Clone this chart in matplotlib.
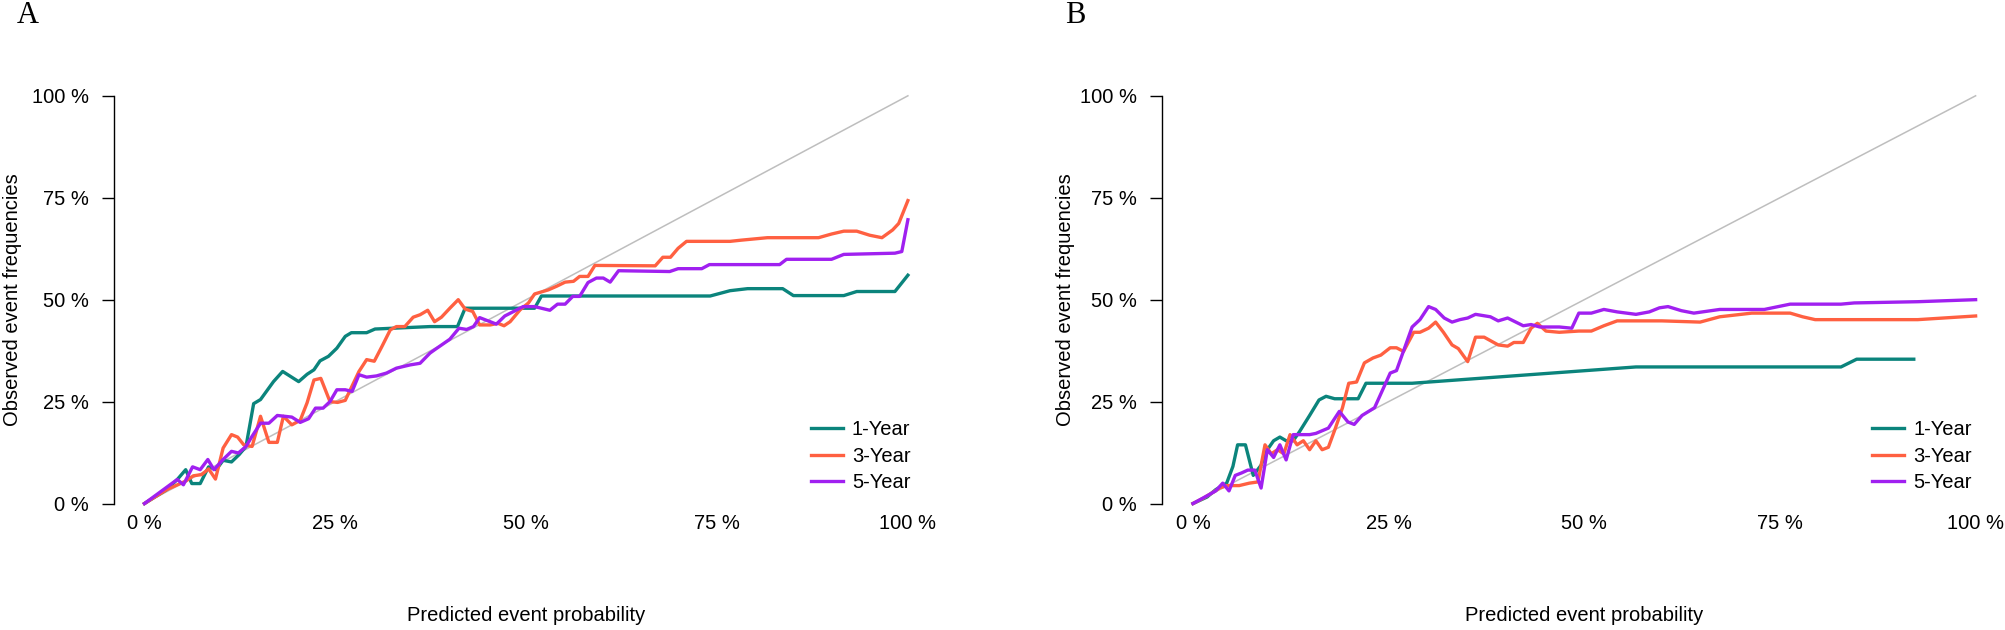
import matplotlib
matplotlib.use("Agg")
import matplotlib.pyplot as plt

# panel A (x = predicted %, y = observed %)
a1_x = [0, 2.9, 4.3, 5.4, 6.2, 7.3, 8.4, 9.4, 10.3, 11.4, 12.4, 13.3, 14.3, 15.2, 16.9, 18.1, 20.2, 21.3, 22.2, 23.0,
        24.1, 25.2, 26.3, 27.1, 29.1, 30.2, 37.4, 41.0, 42.0, 51.1, 52.0, 74.1, 76.7, 79.0, 83.6, 85.0, 91.6, 93.3, 98.3, 100]
a1_y = [0, 3.4, 5.9, 8.3, 4.9, 4.9, 9.0, 8.3, 10.6, 10.2, 12.0, 14.0, 24.5, 25.5, 29.9, 32.4, 29.9, 31.7, 32.8, 35.0,
        36.1, 38.1, 41.0, 41.9, 41.9, 42.8, 43.4, 43.4, 47.9, 47.9, 50.9, 50.9, 52.2, 52.7, 52.7, 51.0, 51.0, 52.0, 52.0, 56.0]

a3_x = [0, 2.9, 5.4, 6.4, 7.5, 8.4, 9.3, 10.3, 11.4, 12.2, 13.0, 14.1, 15.2, 16.3, 17.4, 18.2, 19.3, 20.4, 21.3, 22.2,
        23.1, 24.3, 25.3, 26.3, 28.1, 29.1, 30.1, 31.1, 32.2, 33.0, 34.1, 35.2, 36.1, 37.1, 38.0, 38.9, 40.0, 41.1, 42.0, 43.0,
        43.9, 45.3, 46.3, 47.1, 47.9, 49.2, 50.3, 51.1, 52.9, 54.0, 55.1, 56.2, 57.0, 58.1, 59.0, 66.9, 67.9, 68.9, 69.9, 71.0,
        76.7, 78.2, 81.6, 88.3, 90.0, 91.6, 93.3, 95.0, 96.6, 98.0, 98.8, 100]
a3_y = [0, 3.4, 5.5, 6.8, 7.1, 8.5, 6.0, 13.6, 16.9, 16.3, 14.4, 14.0, 21.4, 15.0, 15.0, 21.4, 19.3, 20.4, 24.7, 30.3,
        30.7, 25.0, 24.8, 25.3, 32.4, 35.3, 34.9, 38.5, 42.6, 43.4, 43.4, 45.7, 46.3, 47.4, 44.6, 45.7, 47.9, 50.0, 47.7, 47.1,
        43.8, 43.8, 44.2, 43.6, 44.6, 47.5, 49.2, 51.4, 52.4, 53.3, 54.3, 54.5, 55.7, 55.7, 58.4, 58.3, 60.4, 60.4, 62.6, 64.3,
        64.3, 64.6, 65.2, 65.2, 66.1, 66.8, 66.8, 65.8, 65.2, 67.1, 68.7, 74.3]

a5_x = [0, 4.3, 5.1, 6.3, 7.3, 8.3, 9.1, 10.3, 11.4, 12.3, 13.3, 14.1, 15.2, 16.3, 17.4, 19.3, 20.4, 21.5, 22.4, 23.4,
        24.3, 25.2, 26.3, 27.2, 28.1, 29.1, 30.4, 31.7, 33.0, 34.8, 36.1, 37.4, 38.0, 40.0, 41.2, 42.2, 43.1, 43.9, 46.1, 47.2,
        49.6, 51.1, 53.1, 54.1, 55.1, 56.1, 57.0, 58.1, 59.2, 60.1, 61.0, 62.1, 68.8, 69.9, 73.0, 74.0, 83.2, 84.1, 90.0, 91.6,
        98.3, 99.2, 100]
a5_y = [0, 5.9, 4.6, 9.0, 8.3, 10.8, 8.3, 10.8, 12.8, 12.4, 14.0, 16.5, 19.7, 19.7, 21.6, 21.2, 19.9, 20.8, 23.4, 23.4,
        25.0, 27.9, 27.9, 27.5, 31.6, 31.0, 31.3, 32.0, 33.2, 34.0, 34.4, 36.9, 37.7, 40.3, 43.0, 42.7, 43.4, 45.6, 44.0, 46.0,
        48.3, 48.3, 47.4, 48.9, 48.9, 50.8, 50.8, 54.2, 55.3, 55.3, 54.3, 57.1, 56.9, 57.6, 57.6, 58.6, 58.6, 59.9, 59.9, 61.1,
        61.4, 61.8, 69.6]

# panel B
b1_x = [0, 1.8, 2.9, 4.3, 5.1, 5.7, 6.7, 7.7, 8.7, 9.5, 10.3, 11.1, 11.9, 12.8, 13.6, 14.9, 15.5, 16.1, 17.0, 18.1,
        21.1, 22.1, 28.0, 56.6, 82.8, 84.8, 92.1]
b1_y = [0, 1.6, 3.4, 5.0, 9.1, 14.4, 14.4, 6.9, 9.4, 13.2, 15.4, 16.3, 15.4, 15.4, 17.6, 21.6, 23.5, 25.4, 26.3, 25.7,
        25.7, 29.5, 29.5, 33.5, 33.5, 35.4, 35.4]

b3_x = [0, 1.3, 2.6, 3.4, 4.3, 5.9, 7.2, 8.3, 9.2, 10.0, 10.8, 11.6, 12.4, 13.3, 14.1, 14.9, 15.7, 16.5, 17.3, 18.2,
        19.1, 19.9, 20.9, 21.9, 23.0, 24.0, 25.2, 26.0, 26.9, 28.2, 29.0, 30.1, 31.0, 32.0, 33.1, 33.9, 35.1, 36.1, 37.2, 39.0,
        40.2, 41.0, 42.2, 43.2, 44.0, 45.1, 46.8, 49.3, 50.9, 52.5, 54.2, 59.9, 64.8, 67.3, 71.4, 76.3, 77.9, 79.5, 92.6, 100]
b3_y = [0, 1.3, 2.8, 3.8, 4.4, 4.4, 5.0, 5.3, 14.4, 12.2, 13.2, 12.2, 16.9, 14.4, 15.4, 13.2, 15.4, 13.2, 13.8, 18.5,
        23.5, 29.5, 29.8, 34.5, 35.7, 36.4, 38.2, 38.2, 37.3, 42.0, 42.0, 43.0, 44.5, 42.0, 38.9, 38.0, 34.8, 40.8, 40.8, 38.9,
        38.6, 39.5, 39.5, 43.0, 44.2, 42.3, 42.0, 42.3, 42.3, 43.6, 44.8, 44.8, 44.5, 45.8, 46.7, 46.7, 45.8, 45.1, 45.1, 46.0]

b5_x = [0, 1.8, 2.9, 3.8, 4.6, 5.4, 6.2, 7.0, 7.9, 8.7, 9.5, 10.3, 11.1, 11.9, 12.8, 13.6, 14.9, 15.7, 17.3, 18.7,
        19.8, 20.6, 21.6, 23.2, 25.2, 26.0, 28.0, 29.0, 30.1, 31.0, 32.1, 33.1, 34.1, 35.1, 36.1, 38.0, 39.0, 40.2, 42.2, 43.2,
        44.3, 46.8, 48.4, 49.3, 50.9, 52.5, 54.2, 56.6, 58.3, 59.6, 60.7, 62.4, 64.0, 67.3, 73.0, 76.3, 82.8, 84.5, 92.6, 100]
b5_y = [0, 1.9, 3.1, 5.0, 3.1, 6.9, 7.5, 8.2, 8.2, 3.8, 13.2, 11.3, 14.4, 10.7, 16.9, 16.9, 16.9, 17.2, 18.5, 22.6,
        20.0, 19.4, 21.6, 23.5, 32.0, 32.6, 43.3, 45.1, 48.3, 47.6, 45.5, 44.5, 45.1, 45.5, 46.4, 45.8, 44.8, 45.5, 43.6, 43.9,
        43.3, 43.3, 43.0, 46.7, 46.7, 47.6, 47.0, 46.4, 47.0, 48.0, 48.3, 47.3, 46.7, 47.6, 47.6, 48.9, 48.9, 49.2, 49.5, 50.0]

labels = ["1-Year", "3-Year", "5-Year"]
colors = ["#0B847C", "#FF6041", "#A020F0"]
ticks = [0, 25, 50, 75, 100]
tick_labels = ["0 %", "25 %", "50 %", "75 %", "100 %"]

plt.rcParams['font.family'] = ['Liberation Sans', 'DejaVu Sans']
plt.rcParams['font.size'] = 14.5

W, H = 1568.0, 493.0  # layout measured on a scaled copy of the reference

fig = plt.figure(figsize=(20.05, 6.3), dpi=100)

panels = [
    # letter, letter x, ylabel x, axes left, axes width, legend x, series
    ("A", 22, 10, 89.1, 644.8, 634, [(a1_x, a1_y), (a3_x, a3_y), (a5_x, a5_y)]),
    ("B", 841, 833, 908.5, 661.0, 1464, [(b1_x, b1_y), (b3_x, b3_y), (b5_x, b5_y)]),
]

for letter, lx, ylx, left, width, legx, series in panels:
    ax = fig.add_axes([left / W, (H - 406.8) / H, width / W, 344.6 / H])
    ax.plot([0, 100], [0, 100], color="#BEBEBE", lw=1.1)
    for (xs, ys), c, lab in zip(series, colors, labels):
        ax.plot(xs, ys, color=c, lw=2.4, label=lab)
    ax.set_xlim(-4, 104)
    ax.set_ylim(-4, 104)
    for s in ["top", "right", "bottom"]:
        ax.spines[s].set_visible(False)
    ax.spines["left"].set_bounds(0, 100)
    ax.spines["left"].set_linewidth(1)
    ax.set_yticks(ticks)
    ax.set_yticklabels(tick_labels)
    ax.set_xticks(ticks)
    ax.set_xticklabels(tick_labels)
    ax.tick_params(axis="y", length=8.8, width=1, pad=9)
    ax.tick_params(axis="x", length=0, pad=-4)
    ax.set_xlabel("Predicted event probability")
    ax.xaxis.label.set_va("center")
    ax.xaxis.set_label_coords(0.5, (406.8 - 482) / 344.6)
    ax.set_ylabel("Observed event frequencies")
    ax.yaxis.label.set_va("center")
    ax.yaxis.set_label_coords((ylx - left) / width, 0.5)
    ax.legend(loc="upper left", bbox_to_anchor=(legx / W, 1 - 329 / H), bbox_transform=fig.transFigure,
              frameon=False, borderpad=0, borderaxespad=0, handlelength=1.6, handletextpad=0.45,
              labelspacing=0.36, fontsize=14.5)
    fig.text(lx / W, 1 - 12 / H, letter, ha="center", va="center", fontsize=22,
             family=["Liberation Serif", "DejaVu Serif"])

fig.savefig("out.png", dpi=100)
